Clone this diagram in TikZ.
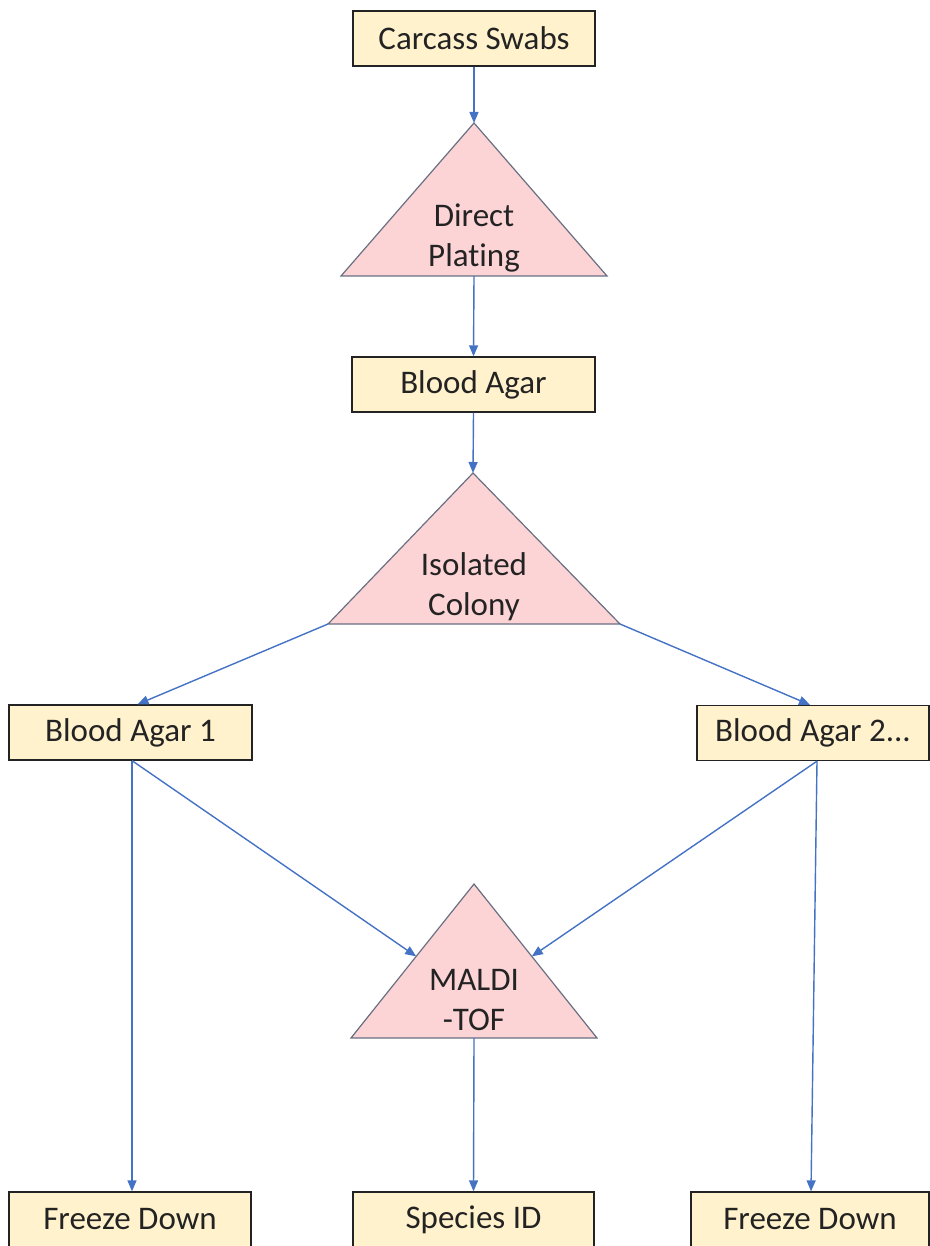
\documentclass[tikz,border=0pt]{standalone}
\usepackage{fontspec}
\setmainfont{Carlito}[Ligatures={NoCommon}]
\usetikzlibrary{arrows.meta,positioning,calc}
\definecolor{boxfill}{RGB}{255,242,204}
\definecolor{trifill}{RGB}{252,212,214}
\definecolor{triedge}{RGB}{105,112,130}
\definecolor{flow}{RGB}{68,114,196}
\definecolor{ink}{RGB}{35,35,35}

\begin{document}
\begin{tikzpicture}[x=1pt, y=-1pt,
    stepbox/.style={draw=ink, line width=1.3pt, fill=boxfill, minimum width=242pt,
      minimum height=55pt, inner sep=0pt, text=ink, font=\fontsize{33}{40}\selectfont},
    tritext/.style={align=center, inner sep=0pt, text=ink, font=\fontsize{33}{40}\selectfont},
    tri/.style={fill=trifill, draw=triedge, line width=1.2pt},
    flowarrow/.style={draw=flow, line width=1.4pt, -{Triangle[length=11pt,width=9pt]}}]
  \useasboundingbox (0,0) rectangle (929,1246);

  % triangles first, so the arrows sit on top
  \coordinate (plate top) at (474,123);
  \coordinate (plate left) at (341,276);
  \coordinate (plate right) at (607,276);
  \coordinate (plate base) at (474,276);
  \filldraw[tri] (plate top) -- (plate right) -- (plate left) -- cycle;
  \node[tritext] (plate) at (474,238) {Direct\\Plating};

  \coordinate (colony top) at (473,473);
  \coordinate (colony left) at (328,624);
  \coordinate (colony right) at (620,624);
  \filldraw[tri] (colony top) -- (colony right) -- (colony left) -- cycle;
  \node[tritext] (colony) at (474,587) {Isolated\\Colony};

  \coordinate (maldi top) at (474,884);
  \coordinate (maldi left) at (351,1038);
  \coordinate (maldi right) at (597,1038);
  \coordinate (maldi base) at (474,1038);
  \filldraw[tri] (maldi top) -- (maldi right) -- (maldi left) -- cycle;
  \node[tritext] (maldi) at (474,1000) {MALDI\\-TOF};

  % boxes
  \node[stepbox] (swabs) at (474,38.5) {Carcass Swabs};
  \node[stepbox, minimum width=243pt] (agar) at (473.5,384.5) {Blood Agar};
  \node[stepbox, minimum width=243pt] (agar one) at (130.5,732.5) {Blood Agar 1};
  \node[stepbox, minimum width=232pt] (agar two) at (813,733) {Blood Agar 2...};
  \node[stepbox] (freeze one) at (130,1219.5) {Freeze Down};
  \node[stepbox, minimum width=241pt] (species) at (473.5,1219.5) {Species ID};
  \node[stepbox, minimum width=238pt] (freeze two) at (810,1219.5) {Freeze Down};

  % connectors
  \draw[flowarrow] (swabs.south) -- (plate top);
  \draw[flowarrow] (plate base) -- (agar.north);
  \draw[flowarrow] (agar.south) -- (colony top);
  \draw[flowarrow] (colony left) -- ([xshift=7pt]agar one.north);
  \draw[flowarrow] (colony right) -- ([xshift=-3pt]agar two.north);
  \draw[flowarrow] ([xshift=1.5pt]agar one.south) -- ([xshift=2pt]freeze one.north);
  \draw[flowarrow] ([xshift=1.5pt]agar one.south) -- ($(maldi top)!0.47!(maldi left)$);
  \draw[flowarrow] ([xshift=4pt]agar two.south) -- ($(maldi top)!0.47!(maldi right)$);
  \draw[flowarrow] ([xshift=4pt]agar two.south) -- ([xshift=1pt]freeze two.north);
  \draw[flowarrow] (maldi base) -- (species.north);
\end{tikzpicture}
\end{document}
